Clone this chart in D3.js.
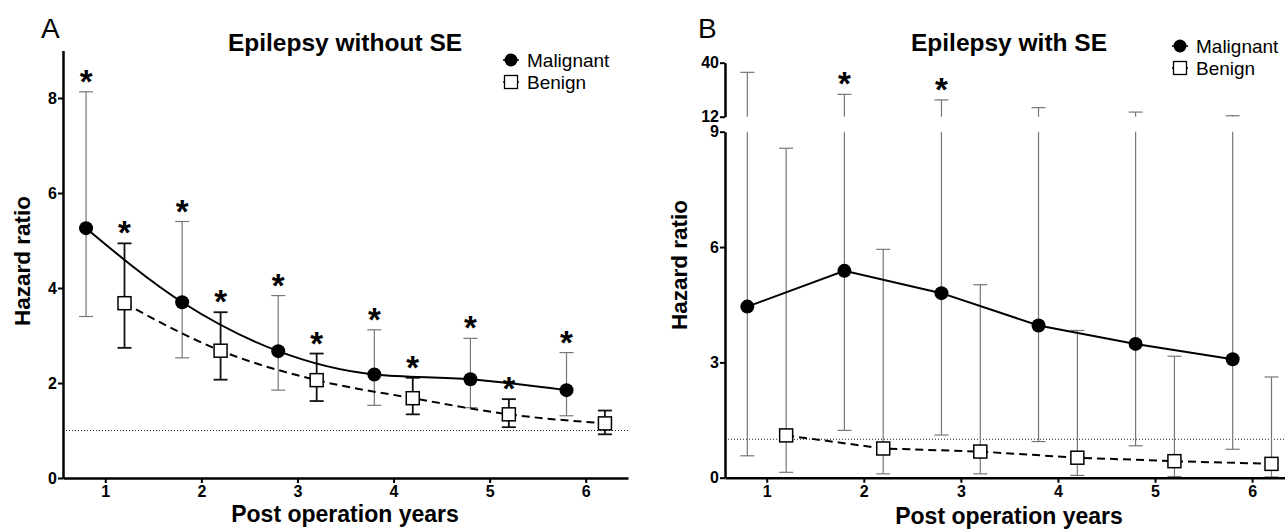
<!DOCTYPE html>
<html>
<head>
<meta charset="utf-8">
<script src="https://cdn.jsdelivr.net/npm/d3@7"></script>
<style>
  body { margin: 0; background: #fff; }
  svg { display: block; font-family: "Liberation Sans", Arial, sans-serif; }
</style>
</head>
<body>
<svg id="chart" width="1285" height="531"></svg>
<script>
// x categories (post operation years)
const years = [1, 2, 3, 4, 5, 6];

// Panel A: epilepsy without SE
const malA = [5.26, 3.70, 2.67, 2.18, 2.08, 1.85];
const malALo = [3.40, 2.53, 1.85, 1.53, 1.48, 1.31];
const malAHi = [8.13, 5.40, 3.84, 3.12, 2.94, 2.64];
const benA = [3.68, 2.68, 2.06, 1.68, 1.34, 1.15];
const benALo = [2.74, 2.07, 1.62, 1.34, 1.07, 0.92];
const benAHi = [4.94, 3.49, 2.62, 2.11, 1.66, 1.42];
const sigMalA = [1, 1, 1, 1, 1, 1];
const sigBenA = [1, 1, 1, 1, 1, 0];
const ticksA = [0, 2, 4, 6, 8];

// Panel B: epilepsy with SE
const malB = [4.45, 5.38, 4.80, 3.96, 3.48, 3.08];
const malBLo = [0.57, 1.23, 1.11, 0.94, 0.83, 0.74];
const malBHi = [35.0, 23.6, 20.7, 16.7, 14.4, 12.5];
const benB = [1.10, 0.76, 0.68, 0.52, 0.43, 0.36];
const benBLo = [0.14, 0.10, 0.10, 0.06, 0.03, 0.02];
const benBHi = [8.57, 5.94, 5.02, 3.83, 3.16, 2.62];
const sigMalB = [0, 1, 1, 0, 0, 0];
const sigBenB = [0, 0, 0, 0, 0, 0];
const ticksBLow = [0, 3, 6, 9];
const ticksBHigh = [12, 40];

const seriesNames = ['Malignant', 'Benign'];
const offset = 0.2;

const svg = d3.select('#chart');
svg.append('rect').attr('width', 1285).attr('height', 531).attr('fill', '#fff');

// piecewise y for a (possibly) broken axis
function makeY(low, high) {
  const f = v => (high && v >= high.domain()[0]) ? high(v) : low(Math.min(v, low.domain()[1]));
  f.low = low;
  f.high = high;
  return f;
}

function drawErrorBars(g, x, y, xs, vals, los, his, color, width) {
  const cap = 7;
  const low = y.low, high = y.high;
  xs.forEach((xv, i) => {
    const px = x(xv);
    const segs = [];
    if (high && his[i] > low.domain()[1]) {
      segs.push([low(los[i]), low(low.domain()[1])]);
      segs.push([high(high.domain()[0]), high(his[i])]);
    } else {
      segs.push([y(los[i]), y(his[i])]);
    }
    segs.forEach(s => g.append('line')
      .attr('x1', px).attr('x2', px).attr('y1', s[0]).attr('y2', s[1])
      .attr('stroke', color).attr('stroke-width', width));
    [los[i], his[i]].forEach(v => g.append('line')
      .attr('x1', px - cap).attr('x2', px + cap).attr('y1', y(v)).attr('y2', y(v))
      .attr('stroke', color).attr('stroke-width', width));
  });
}

function drawStars(g, x, y, xs, his, sig) {
  xs.forEach((xv, i) => {
    if (!sig[i]) return;
    g.append('text')
      .attr('x', x(xv)).attr('y', y(his[i]) + 1)
      .attr('text-anchor', 'middle')
      .attr('font-size', 33).attr('font-weight', 'bold')
      .text('*');
  });
}

function drawPanel(p) {
  const g = svg.append('g');
  const x = d3.scaleLinear().domain(p.xDomain).range(p.xRange);
  const y = p.y;
  const low = y.low;
  const x0 = p.xRange[0];
  const base = low.range()[0];

  // reference line at 1
  g.append('line')
    .attr('x1', x0).attr('x2', p.xRange[1])
    .attr('y1', y(1)).attr('y2', y(1))
    .attr('stroke', '#222').attr('stroke-width', 1).attr('stroke-dasharray', '1,2');

  const mx = years.map(d => d - offset);
  const bx = years.map(d => d + offset);

  drawErrorBars(g, x, y, mx, p.mal, p.malLo, p.malHi, '#777', 1.2);
  drawErrorBars(g, x, y, bx, p.ben, p.benLo, p.benHi, p.benBarColor, p.benBarWidth);

  const line = d3.line().x(d => x(d[0])).y(d => y(d[1])).curve(p.curve);
  g.append('path').datum(mx.map((d, i) => [d, p.mal[i]]))
    .attr('d', line).attr('fill', 'none').attr('stroke', '#000').attr('stroke-width', 2);
  g.append('path').datum(bx.map((d, i) => [d, p.ben[i]]))
    .attr('d', line).attr('fill', 'none').attr('stroke', '#000').attr('stroke-width', 2)
    .attr('stroke-dasharray', '8,5');

  g.selectAll('circle.mal').data(mx).join('circle')
    .attr('cx', d => x(d)).attr('cy', (d, i) => y(p.mal[i])).attr('r', 7).attr('fill', '#000');
  g.selectAll('rect.ben').data(bx).join('rect')
    .attr('x', d => x(d) - 6.5).attr('y', (d, i) => y(p.ben[i]) - 6.5)
    .attr('width', 13).attr('height', 13)
    .attr('fill', '#fff').attr('stroke', '#000').attr('stroke-width', 1.5);

  drawStars(g, x, y, mx, p.malHi, p.sigMal);
  drawStars(g, x, y, bx, p.benHi, p.sigBen);

  // axes
  g.append('g').attr('transform', `translate(0,${base})`)
    .call(d3.axisBottom(x).tickValues(years).tickFormat(d3.format('d'))
      .tickSize(5).tickSizeOuter(0).tickPadding(3));
  g.append('g').attr('transform', `translate(${x0},0)`)
    .call(d3.axisLeft(low).tickValues(p.ticksLow).tickFormat(d3.format('d'))
      .tickSize(5).tickSizeOuter(0).tickPadding(1));
  if (y.high) {
    g.append('g').attr('transform', `translate(${x0},0)`)
      .call(d3.axisLeft(y.high).tickValues(p.ticksHigh).tickFormat(d3.format('d'))
        .tickSize(5).tickSizeOuter(0).tickPadding(1));
  }
  g.selectAll('.domain').attr('stroke', '#000').attr('stroke-width', 2.5);
  g.selectAll('.tick line').attr('stroke', '#000').attr('stroke-width', 2);
  g.selectAll('.tick text').attr('fill', '#000')
    .style('font-family', '"Liberation Sans", Arial, sans-serif')
    .style('font-size', '16px').style('font-weight', 'bold');

  // texts
  svg.append('text').attr('x', p.letterX).attr('y', 38)
    .attr('font-size', 28).text(p.letter);
  svg.append('text').attr('x', p.titleX).attr('y', 51)
    .attr('text-anchor', 'middle').attr('font-size', 24.5).attr('font-weight', 'bold')
    .text(p.title);
  svg.append('text').attr('transform', `translate(${p.yLabelX},${p.yLabelY}) rotate(-90)`)
    .attr('text-anchor', 'middle').attr('font-size', 22.5).attr('font-weight', 'bold')
    .text('Hazard ratio');
  svg.append('text').attr('x', p.titleX).attr('y', p.xLabelY)
    .attr('text-anchor', 'middle').attr('font-size', 23).attr('font-weight', 'bold')
    .text('Post operation years');

  // legend
  const lg = svg.append('g').attr('transform', `translate(${p.legendX},${p.legendY})`);
  seriesNames.forEach((name, i) => {
    const row = lg.append('g').attr('transform', `translate(0,${i * 22})`);
    row.append('line').attr('x1', -8).attr('x2', 8).attr('stroke', '#000').attr('stroke-width', 1.5);
    if (i === 0) {
      row.append('circle').attr('r', 6.5).attr('fill', '#000');
    } else {
      row.append('rect').attr('x', -6.5).attr('y', -6.5).attr('width', 13).attr('height', 13)
        .attr('fill', '#fff').attr('stroke', '#000').attr('stroke-width', 1.3);
    }
    row.append('text').attr('x', 16).attr('y', 6.5).attr('font-size', 19).text(name);
  });
}

drawPanel({
  letter: 'A', letterX: 41, title: 'Epilepsy without SE', titleX: 345,
  xDomain: [0.56, 6.44], xRange: [63, 628],
  y: makeY(d3.scaleLinear().domain([0, 9]).range([478, 50.5]), null),
  ticksLow: ticksA,
  mal: malA, malLo: malALo, malHi: malAHi,
  ben: benA, benLo: benALo, benHi: benAHi,
  sigMal: sigMalA, sigBen: sigBenA,
  benBarColor: '#111', benBarWidth: 1.8,
  curve: d3.curveMonotoneX,
  yLabelX: 30, yLabelY: 261, xLabelY: 521.5,
  legendX: 511, legendY: 60
});

drawPanel({
  letter: 'B', letterX: 698, title: 'Epilepsy with SE', titleX: 1009,
  xDomain: [0.57, 6.44], xRange: [725, 1294.8],
  y: makeY(d3.scaleLinear().domain([0, 9]).range([477.7, 131.7]),
           d3.scaleLinear().domain([12, 40]).range([116.7, 62.7])),
  ticksLow: ticksBLow, ticksHigh: ticksBHigh,
  mal: malB, malLo: malBLo, malHi: malBHi,
  ben: benB, benLo: benBLo, benHi: benBHi,
  sigMal: sigMalB, sigBen: sigBenB,
  benBarColor: '#777', benBarWidth: 1.2,
  curve: d3.curveLinear,
  yLabelX: 687, yLabelY: 265, xLabelY: 523.5,
  legendX: 1180, legendY: 46
});
</script>
</body>
</html>
